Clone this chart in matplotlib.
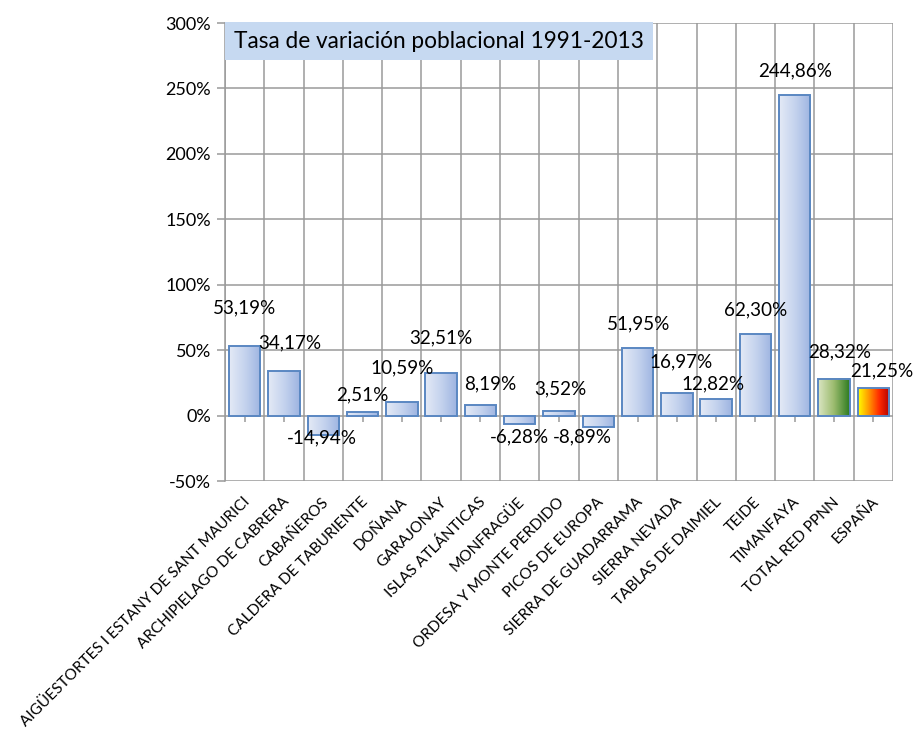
import numpy as np
import matplotlib
matplotlib.use("Agg")
import matplotlib.pyplot as plt
from matplotlib.colors import LinearSegmentedColormap
from matplotlib.ticker import FuncFormatter
from matplotlib.transforms import ScaledTranslation

categories = [
    "AIGÜESTORTES I ESTANY DE SANT MAURICI", "ARCHIPIELAGO DE CABRERA", "CABAÑEROS",
    "CALDERA DE TABURIENTE", "DOÑANA", "GARAJONAY", "ISLAS ATLÁNTICAS", "MONFRAGÜE",
    "ORDESA Y MONTE PERDIDO", "PICOS DE EUROPA", "SIERRA DE GUADARRAMA", "SIERRA NEVADA",
    "TABLAS DE DAIMIEL", "TEIDE", "TIMANFAYA", "TOTAL RED PPNN", "ESPAÑA",
]
values = [53.19, 34.17, -14.94, 2.51, 10.59, 32.51, 8.19, -6.28, 3.52, -8.89,
          51.95, 16.97, 12.82, 62.30, 244.86, 28.32, 21.25]
title = "Tasa de variación poblacional 1991-2013"

# label offsets in pixels (dx, dy) relative to bar end
label_offsets = [(0, 38), (6, 28), (-1, -3), (0, 17), (0, 34), (0, 35), (10, 21),
                 (0, -13), (1, 22), (-16, -10), (1, 24), (4, 31), (-3, 15),
                 (0, 24), (0, 24), (6, 27), (8, 17)]

plt.rcParams['font.family'] = ['Lato', 'DejaVu Sans']

blue = LinearSegmentedColormap.from_list("b", ["#e4eaf6", "#c5d3ee", "#9db4e1"])
green = LinearSegmentedColormap.from_list("g", ["#dbe6c4", "#9bbb6e", "#2b7a1f"])
spain = LinearSegmentedColormap.from_list("s", ["#ffff00", "#ff9900", "#ff2a00", "#b00000"])
cmaps = [blue] * 15 + [green, spain]

fig = plt.figure(figsize=(9.14, 7.38), dpi=100)
ax = fig.add_axes([225 / 914, 1 - 481 / 738, (893 - 225) / 914, (481 - 23) / 738])

grid_c = "#9a9a9a"
n = len(categories)
x = np.arange(n) + 0.5
w = 0.8

bars = ax.bar(x, values, width=w, facecolor="none", edgecolor="#5a87c2", lw=1.4, zorder=4)
grad = np.linspace(0, 1, 256).reshape(1, -1)
for xi, v, cm in zip(x, values, cmaps):
    ax.imshow(grad, extent=[xi - w / 2, xi + w / 2, min(0, v), max(0, v)],
              cmap=cm, aspect="auto", zorder=3, interpolation="bicubic")

for xi, v, (dx, dy) in zip(x, values, label_offsets):
    txt = f"{v:.2f}".replace(".", ",") + "%"
    ax.annotate(txt, (xi, v), xytext=(dx, dy), textcoords="offset pixels",
                ha="center", va="center", fontsize=13.6, color="#000000", zorder=6)

ax.set_xlim(0, n)
ax.set_ylim(-50, 300)
ax.set_yticks(np.arange(-50, 301, 50))
ax.yaxis.set_major_formatter(FuncFormatter(lambda v, p: f"{int(v)}%"))
ax.set_xticks(x, categories, rotation=45, ha="right", rotation_mode="anchor", fontsize=11.1)
ax.tick_params(axis="x", length=0, pad=10)
ax.tick_params(axis="y", length=6, width=1.1, color=grid_c, labelsize=13, pad=4)
shift = ScaledTranslation(-2 / 100, 0, fig.dpi_scale_trans)
for lbl in ax.get_xticklabels():
    lbl.set_transform(lbl.get_transform() + shift)

for s in ["top", "right", "bottom"]:
    ax.spines[s].set_visible(False)
ax.spines["left"].set_color(grid_c)
ax.spines["left"].set_linewidth(1.1)

ax.hlines(np.arange(-50, 301, 50), 0, n, color=grid_c, lw=1.1, zorder=1)
ax.vlines(np.arange(0, n + 1), -50, 300, color=grid_c, lw=1.1, zorder=1)
ax.plot(x, np.zeros_like(x), ls="none", marker=3, ms=4, mew=1.1, color=grid_c, zorder=2)

fig.text(439 / 914, 1 - 41 / 738, title, ha="center", va="center", fontsize=16.3,
         bbox=dict(boxstyle="square,pad=0.38", fc="#c6d9f1", ec="none"), zorder=10)

fig.savefig("out.png", dpi=100)
